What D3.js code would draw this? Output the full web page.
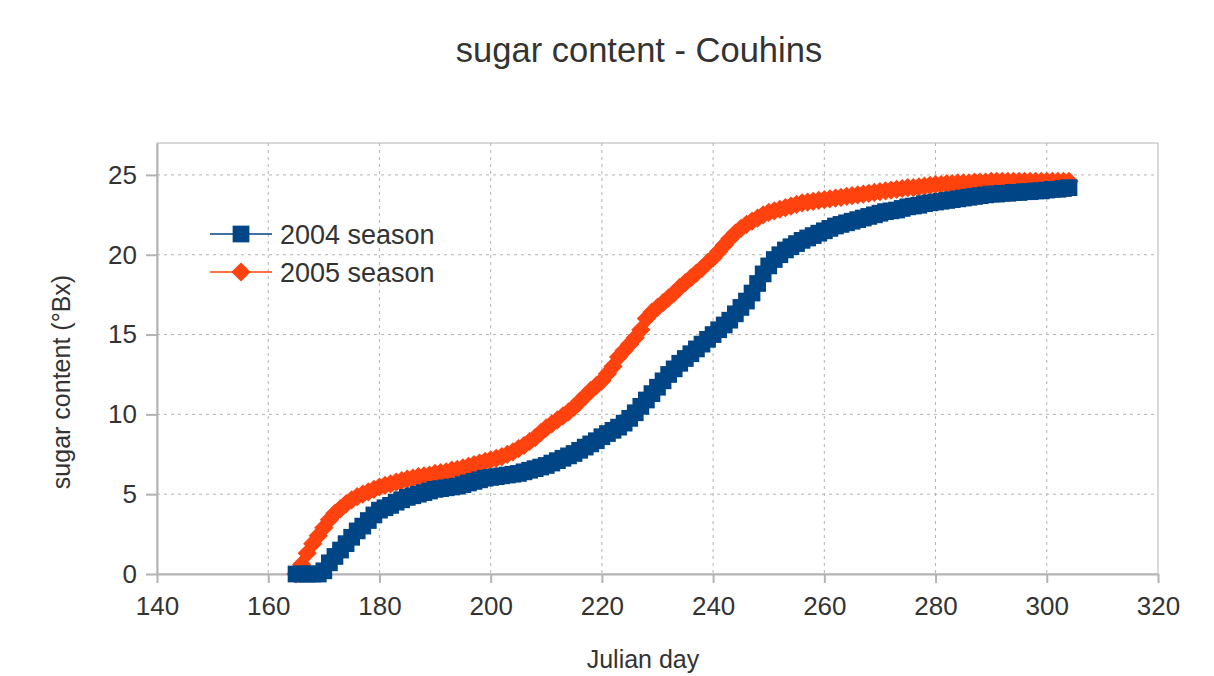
<!DOCTYPE html>
<html>
<head>
<meta charset="utf-8">
<script src="https://cdn.jsdelivr.net/npm/d3@7"></script>
<style>
  body { margin: 0; background: #fff; }
  svg text { font-family: "Liberation Sans", Arial, sans-serif; }
</style>
</head>
<body>
<svg id="chart" width="1214" height="676"></svg>
<script>

// Julian days, one reading per day
var days = d3.range(165, 305);

// sugar content (°Bx), 2004 season
var season2004 = [
	0, 0, 0, 0, 0, 0.2, 0.7, 1.1, 1.5, 1.9,
	2.3, 2.7, 3.0, 3.35, 3.7, 4.0, 4.15, 4.3, 4.5, 4.65,
	4.8, 4.9, 5.0, 5.1, 5.2, 5.3, 5.35, 5.4, 5.45, 5.5,
	5.6, 5.7, 5.8, 5.9, 6.0, 6.05, 6.1, 6.15, 6.2, 6.25,
	6.3, 6.4, 6.5, 6.6, 6.7, 6.8, 6.95, 7.1, 7.25, 7.4,
	7.55, 7.75, 7.95, 8.15, 8.35, 8.6, 8.8, 9.0, 9.2, 9.45,
	9.75, 10.1, 10.5, 10.9, 11.3, 11.7, 12.1, 12.5, 12.85, 13.2,
	13.5, 13.8, 14.1, 14.4, 14.7, 15.0, 15.3, 15.6, 15.9, 16.3,
	16.7, 17.1, 17.6, 18.2, 18.8, 19.3, 19.7, 20.0, 20.3, 20.5,
	20.7, 20.9, 21.05, 21.2, 21.35, 21.5, 21.65, 21.8, 21.9, 22.0,
	22.1, 22.2, 22.3, 22.4, 22.5, 22.6, 22.7, 22.75, 22.8, 22.9,
	23.0, 23.05, 23.1, 23.2, 23.25, 23.3, 23.35, 23.4, 23.45, 23.5,
	23.55, 23.6, 23.65, 23.7, 23.75, 23.8, 23.8, 23.85, 23.85, 23.9,
	23.9, 23.95, 23.95, 24.0, 24.0, 24.05, 24.1, 24.1, 24.15, 24.2
];

// sugar content (°Bx), 2005 season
var season2005 = [
	0, 0.6, 1.3, 1.9, 2.4, 2.9, 3.4, 3.8, 4.1, 4.4,
	4.65, 4.85, 5.0, 5.15, 5.3, 5.45, 5.55, 5.65, 5.75, 5.85,
	5.95, 6.0, 6.1, 6.15, 6.2, 6.3, 6.35, 6.4, 6.5, 6.55,
	6.65, 6.75, 6.85, 6.95, 7.05, 7.15, 7.25, 7.35, 7.5, 7.65,
	7.85, 8.05, 8.3, 8.55, 8.85, 9.15, 9.4, 9.65, 9.9, 10.15,
	10.45, 10.8, 11.15, 11.5, 11.8, 12.1, 12.55, 13.0, 13.6, 14.0,
	14.4, 14.8, 15.3, 16.0, 16.4, 16.7, 17.0, 17.3, 17.6, 17.95,
	18.25, 18.55, 18.85, 19.15, 19.5, 19.8, 20.2, 20.6, 21.0, 21.35,
	21.65, 21.9, 22.1, 22.3, 22.5, 22.65, 22.75, 22.85, 22.95, 23.05,
	23.15, 23.25, 23.3, 23.35, 23.4, 23.45, 23.5, 23.55, 23.6, 23.65,
	23.7, 23.75, 23.8, 23.85, 23.9, 23.95, 24.0, 24.05, 24.1, 24.15,
	24.2, 24.2, 24.25, 24.3, 24.35, 24.4, 24.4, 24.45, 24.45, 24.5,
	24.5, 24.5, 24.55, 24.55, 24.55, 24.6, 24.6, 24.6, 24.6, 24.6,
	24.6, 24.6, 24.6, 24.6, 24.6, 24.6, 24.6, 24.6, 24.6, 24.6
];

var xTicks = [140, 160, 180, 200, 220, 240, 260, 280, 300, 320];
var yTicks = [0, 5, 10, 15, 20, 25];

var margin = {top: 143, right: 56, bottom: 102, left: 157};
var svg = d3.select("#chart");
var width = +svg.attr("width") - margin.left - margin.right;
var height = +svg.attr("height") - margin.top - margin.bottom;

var x = d3.scaleLinear().domain([140, 320]).range([0, width]);
var y = d3.scaleLinear().domain([0, 27]).range([height, 0]);

var g = svg.append("g").attr("transform", "translate(" + margin.left + "," + margin.top + ")");

// plot frame
g.append("rect")
	.attr("width", width)
	.attr("height", height)
	.attr("fill", "none")
	.attr("stroke", "#b3b3b3")
	.attr("stroke-width", 1);

// grid
g.selectAll(".vgrid")
	.data(xTicks.slice(1, -1))
	.enter().append("line")
	.attr("x1", function(d) { return x(d); })
	.attr("x2", function(d) { return x(d); })
	.attr("y1", 0)
	.attr("y2", height)
	.attr("stroke", "#b3b3b3")
	.attr("stroke-dasharray", "3,4");

g.selectAll(".hgrid")
	.data(yTicks.slice(1))
	.enter().append("line")
	.attr("x1", 0)
	.attr("x2", width)
	.attr("y1", function(d) { return y(d); })
	.attr("y2", function(d) { return y(d); })
	.attr("stroke", "#b3b3b3")
	.attr("stroke-dasharray", "3,4");

// axes
var xAxis = d3.axisBottom(x).tickValues(xTicks).tickSize(9).tickSizeOuter(0).tickPadding(14);
var yAxis = d3.axisLeft(y).tickValues(yTicks).tickSize(11).tickSizeOuter(0).tickPadding(9);

var gx = g.append("g").attr("transform", "translate(0," + height + ")").call(xAxis);
var gy = g.append("g").call(yAxis);

[gx, gy].forEach(function(ax) {
	ax.select(".domain").attr("stroke", "#b3b3b3").attr("stroke-width", 2);
	ax.selectAll(".tick line").attr("stroke", "#b3b3b3").attr("stroke-width", 2);
	ax.selectAll(".tick text")
		.attr("fill", "#333")
		.style("font-size", "26px");
});

// series (2005 drawn first so 2004 sits on top)
var squareSym = d3.symbol().type(d3.symbolSquare).size(280);
var diamondSym = d3.symbol().type(d3.symbolSquare).size(185);

var series = [
	{name: "2005 season", values: season2005, color: "#ff420e", sym: diamondSym, rot: 45},
	{name: "2004 season", values: season2004, color: "#004586", sym: squareSym, rot: 0}
];

var line = d3.line()
	.x(function(d) { return x(d[0]); })
	.y(function(d) { return y(d[1]); });

series.forEach(function(s) {
	var pts = days.map(function(d, i) { return [d, s.values[i]]; });
	g.append("path")
		.datum(pts)
		.attr("fill", "none")
		.attr("stroke", s.color)
		.attr("stroke-width", 1.5)
		.attr("d", line);
	g.selectAll(null)
		.data(pts)
		.enter().append("path")
		.attr("transform", function(d) { return "translate(" + x(d[0]) + "," + y(d[1]) + ") rotate(" + s.rot + ")"; })
		.attr("d", s.sym)
		.attr("fill", s.color);
});

// legend
var legend = svg.append("g").attr("transform", "translate(210,234)");
series.slice().reverse().forEach(function(s, i) {
	var row = legend.append("g").attr("transform", "translate(0," + (i * 38) + ")");
	row.append("line")
		.attr("x1", 0).attr("x2", 62)
		.attr("stroke", s.color)
		.attr("stroke-width", 1.5);
	row.append("path")
		.attr("transform", "translate(31,0) rotate(" + s.rot + ")")
		.attr("d", s.sym)
		.attr("fill", s.color);
	row.append("text")
		.attr("x", 70)
		.attr("dy", "0.36em")
		.attr("fill", "#333")
		.style("font-size", "27px")
		.text(s.name);
});

// titles
svg.append("text")
	.attr("x", 639)
	.attr("y", 62)
	.attr("text-anchor", "middle")
	.attr("fill", "#333")
	.style("font-size", "34.5px")
	.text("sugar content - Couhins");

svg.append("text")
	.attr("x", 643)
	.attr("y", 668)
	.attr("text-anchor", "middle")
	.attr("fill", "#333")
	.style("font-size", "25px")
	.text("Julian day");

svg.append("text")
	.attr("transform", "translate(70,382) rotate(-90)")
	.attr("text-anchor", "middle")
	.attr("fill", "#333")
	.style("font-size", "25px")
	.text("sugar content (°Bx)");

</script>
</body>
</html>
